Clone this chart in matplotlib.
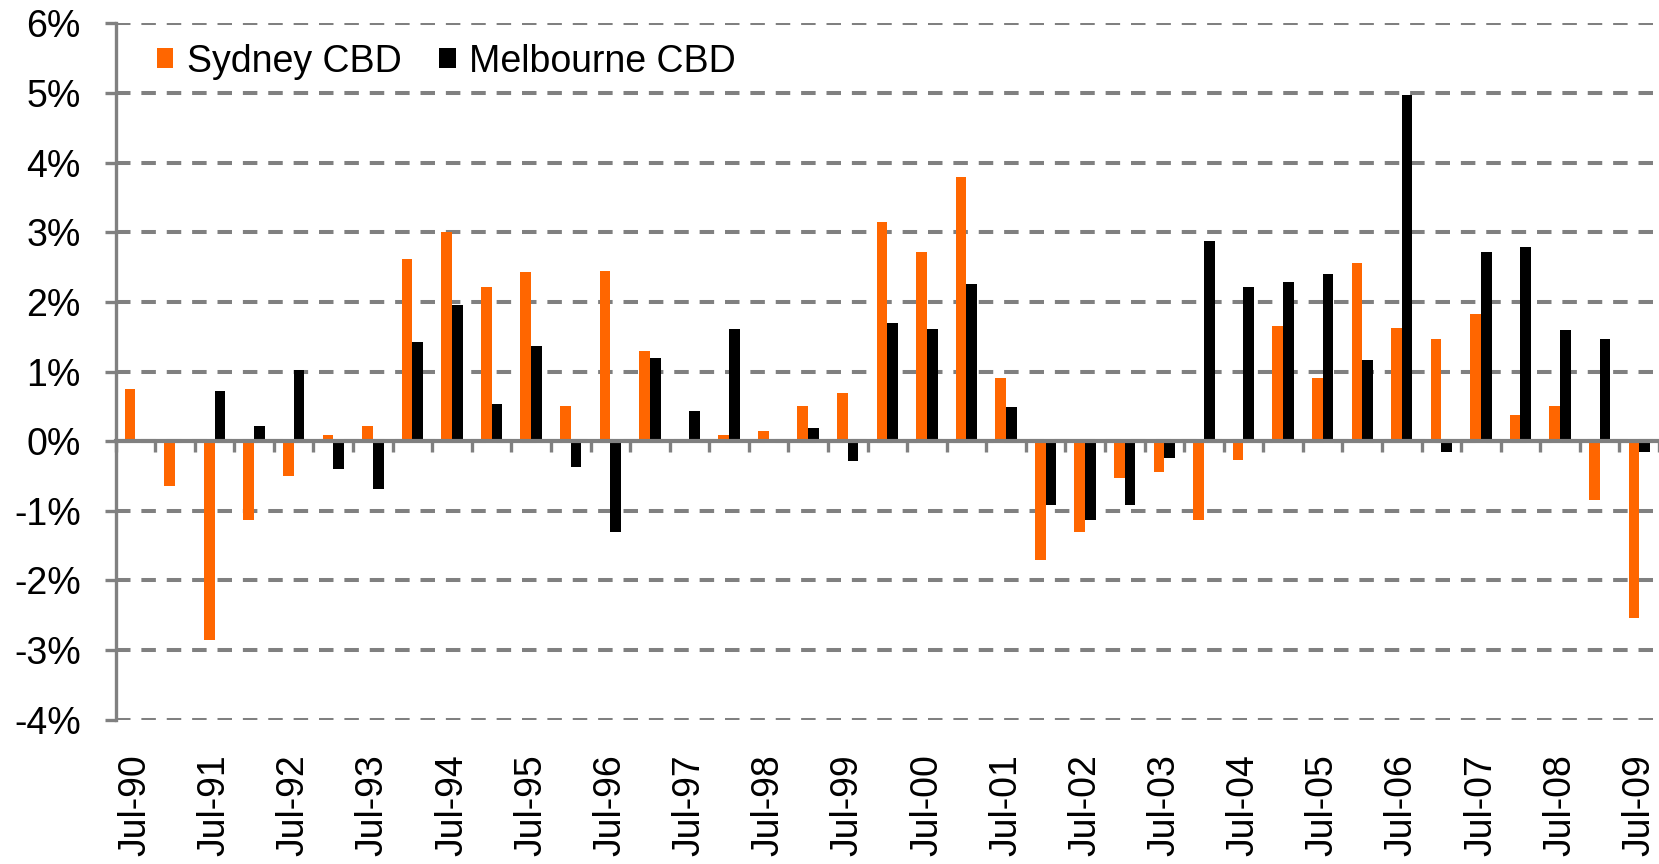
import numpy as np
import matplotlib.pyplot as plt
from matplotlib.ticker import FuncFormatter, MultipleLocator, FixedLocator

plt.rcParams['font.family'] = ['Liberation Sans', 'DejaVu Sans']
plt.rcParams['axes.unicode_minus'] = False

# half-yearly periods
periods = ['Jul-90', 'Jan-91', 'Jul-91', 'Jan-92', 'Jul-92', 'Jan-93', 'Jul-93',
           'Jan-94', 'Jul-94', 'Jan-95', 'Jul-95', 'Jan-96', 'Jul-96', 'Jan-97',
           'Jul-97', 'Jan-98', 'Jul-98', 'Jan-99', 'Jul-99', 'Jan-00', 'Jul-00',
           'Jan-01', 'Jul-01', 'Jan-02', 'Jul-02', 'Jan-03', 'Jul-03', 'Jan-04',
           'Jul-04', 'Jan-05', 'Jul-05', 'Jan-06', 'Jul-06', 'Jan-07', 'Jul-07',
           'Jan-08', 'Jul-08', 'Jan-09', 'Jul-09']

# % change per period
sydney = [0.75, -0.65, -2.85, -1.13, -0.50, 0.09, 0.22, 2.62, 3.01, 2.22,
          2.43, 0.51, 2.45, 1.30, 0.00, 0.09, 0.14, 0.51, 0.69, 3.14,
          2.72, 3.79, 0.91, -1.70, -1.31, -0.53, -0.45, -1.13, -0.27, 1.66,
          0.91, 2.56, 1.63, 1.47, 1.82, 0.38, 0.51, -0.84, -2.54]
melbourne = [0.00, 0.03, 0.72, 0.22, 1.02, -0.40, -0.68, 1.43, 1.96, 0.54,
             1.37, -0.37, -1.31, 1.20, 0.43, 1.61, 0.00, 0.19, -0.29, 1.69,
             1.61, 2.25, 0.49, -0.92, -1.13, -0.92, -0.24, 2.88, 2.22, 2.29,
             2.40, 1.17, 4.97, -0.16, 2.71, 2.79, 1.59, 1.47, -0.16]

ORANGE = '#FF6600'
GREY = '#808080'
FS = 27

x = np.arange(len(periods))
w = 0.27

fig = plt.figure(figsize=(16.59, 8.64), dpi=100)
ax = fig.add_axes([0.0697, 0.167, 0.9303, 0.806])

ax.bar(x - w / 2, sydney, w, color=ORANGE, label='Sydney CBD', zorder=3)
ax.bar(x + w / 2, melbourne, w, color='black', label='Melbourne CBD', zorder=3)

ax.set_xlim(-0.5, len(periods) - 0.5)
ax.set_ylim(-4, 6)

# y axis
ax.yaxis.set_major_locator(MultipleLocator(1))
ax.yaxis.set_major_formatter(FuncFormatter(lambda v, p: '%d%%' % round(v)))
ax.tick_params(axis='y', direction='out', length=8, width=2.4, color=GREY,
               labelsize=FS, pad=17)
ax.yaxis.grid(True, color=GREY, linewidth=2.9, linestyle=(0, (3.6, 2.7)), zorder=0)

# x axis sits on zero, ticks between categories
ax.spines['bottom'].set_position(('data', 0))
ax.spines['bottom'].set_color(GREY)
ax.spines['bottom'].set_linewidth(3.0)
ax.spines['bottom'].set_zorder(4)
ax.spines['left'].set_color(GREY)
ax.spines['left'].set_linewidth(2.4)
ax.spines['top'].set_visible(False)
ax.spines['right'].set_visible(False)
ax.xaxis.set_major_locator(FixedLocator(np.arange(-0.5, len(periods), 1.0)))
ax.tick_params(axis='x', direction='out', length=8, width=2.4, color=GREY,
               labelbottom=False)

# July labels below the plot
for i, lab in enumerate(periods):
    if lab.startswith('Jul'):
        ax.text(i, -0.05, lab, transform=ax.get_xaxis_transform(), rotation=90,
                ha='center', va='top', fontsize=FS, clip_on=False)

ax.legend(loc='center left', bbox_to_anchor=(0.0265, 0.945), ncol=2,
          frameon=False, fontsize=FS, handlelength=0.45, handleheight=0.45,
          handletextpad=0.35, columnspacing=1.0, borderpad=0, borderaxespad=0)

fig.savefig('out.png', dpi=100)
